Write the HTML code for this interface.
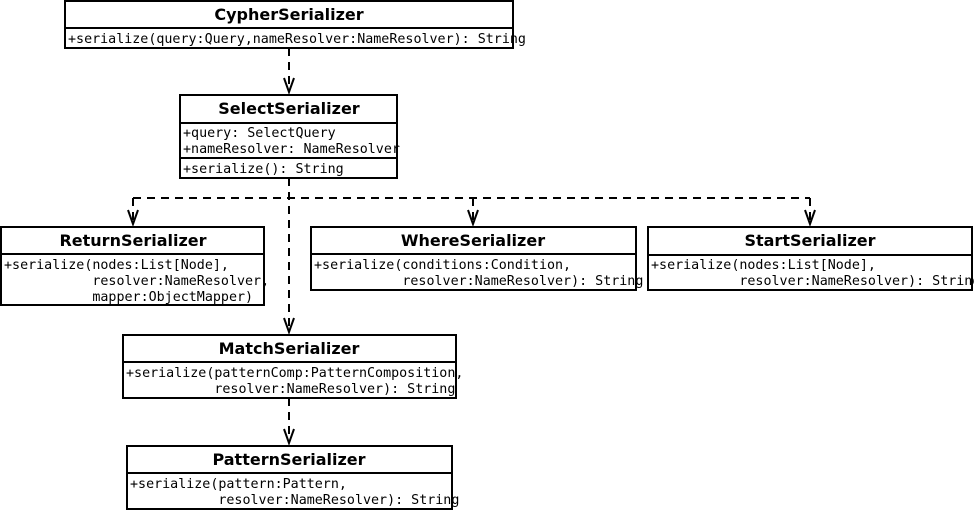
<!DOCTYPE html>
<html><head><meta charset="utf-8"><style>
html,body{margin:0;padding:0;background:#fff;}
svg{display:block}
.t{font-family:"DejaVu Sans","Liberation Sans",sans-serif;font-weight:bold;font-size:16px;text-anchor:middle}
.m{font-family:"DejaVu Sans Mono","Liberation Mono",monospace;font-size:13.35px;white-space:pre}
.b{fill:#fff;stroke:#000;stroke-width:2}
.l{stroke:#000;stroke-width:2}
.d{stroke:#000;stroke-width:2;stroke-dasharray:8,6;fill:none}
.a{stroke:#000;stroke-width:2;fill:none}
</style></head><body>
<svg width="974" height="511" viewBox="0 0 974 511" xmlns="http://www.w3.org/2000/svg">
<path class="d" d="M289 48V92"/>
<path class="a" d="M284 78L289 92L294 78"/>
<path class="d" d="M289 178V332"/>
<path class="a" d="M284 318L289 332L294 318"/>
<path class="d" d="M133 198H810"/>
<path class="d" d="M133 198V224M473 198V224M810 198V224"/>
<path class="a" d="M128 210L133 224L138 210M468 210L473 224L478 210M805 210L810 224L815 210"/>
<path class="d" d="M289 398V443"/>
<path class="a" d="M284 429L289 443L294 429"/>

<rect class="b" x="65" y="1" width="448" height="47"/>
<line class="l" x1="65" y1="28" x2="513" y2="28"/>
<text class="t" x="289" y="20">CypherSerializer</text>
<text class="m" x="68" y="43">+serialize(query:Query,nameResolver:NameResolver): String</text>

<rect class="b" x="180" y="95" width="217" height="83"/>
<line class="l" x1="180" y1="123" x2="397" y2="123"/>
<line class="l" x1="180" y1="158" x2="397" y2="158"/>
<text class="t" x="289" y="114">SelectSerializer</text>
<text class="m" x="183" y="137">+query: SelectQuery</text>
<text class="m" x="183" y="153">+nameResolver: NameResolver</text>
<text class="m" x="183" y="173">+serialize(): String</text>

<rect class="b" x="1" y="227" width="263" height="78"/>
<line class="l" x1="1" y1="254" x2="264" y2="254"/>
<text class="t" x="133" y="246">ReturnSerializer</text>
<text class="m" x="4" y="269">+serialize(nodes:List[Node],</text>
<text class="m" x="4" y="285">           resolver:NameResolver,</text>
<text class="m" x="4" y="301">           mapper:ObjectMapper)</text>

<rect class="b" x="311" y="227" width="325" height="63"/>
<line class="l" x1="311" y1="254" x2="636" y2="254"/>
<text class="t" x="473" y="246">WhereSerializer</text>
<text class="m" x="314" y="269">+serialize(conditions:Condition,</text>
<text class="m" x="314" y="285">           resolver:NameResolver): String</text>

<rect class="b" x="648" y="227" width="324" height="63"/>
<line class="l" x1="648" y1="255" x2="972" y2="255"/>
<text class="t" x="810" y="246">StartSerializer</text>
<text class="m" x="651" y="269">+serialize(nodes:List[Node],</text>
<text class="m" x="651" y="285">           resolver:NameResolver): String</text>

<rect class="b" x="123" y="335" width="333" height="63"/>
<line class="l" x1="123" y1="362" x2="456" y2="362"/>
<text class="t" x="289" y="354">MatchSerializer</text>
<text class="m" x="126" y="377">+serialize(patternComp:PatternComposition,</text>
<text class="m" x="126" y="393">           resolver:NameResolver): String</text>

<rect class="b" x="127" y="446" width="325" height="63"/>
<line class="l" x1="127" y1="473" x2="452" y2="473"/>
<text class="t" x="289" y="465">PatternSerializer</text>
<text class="m" x="130" y="488">+serialize(pattern:Pattern,</text>
<text class="m" x="130" y="504">           resolver:NameResolver): String</text>
</svg>
</body></html>
